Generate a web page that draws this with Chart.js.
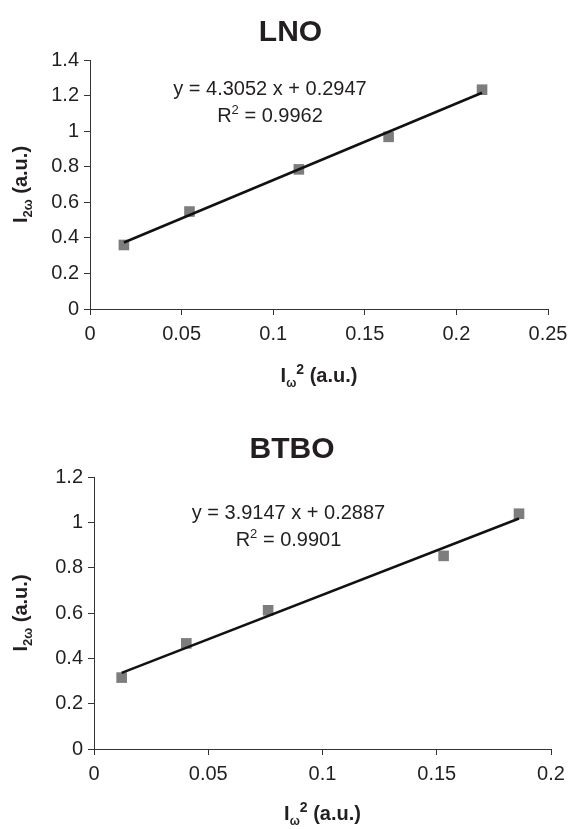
<!DOCTYPE html>
<html><head><meta charset="utf-8">
<script src="https://cdn.jsdelivr.net/npm/chart.js@4/dist/chart.umd.min.js"></script>
<style>html,body{margin:0;padding:0;background:#fff;width:568px;height:829px;overflow:hidden;} canvas{position:absolute;left:0;}</style>
</head><body>
<canvas id="c1" width="568" height="400" style="top:0px"></canvas>
<canvas id="c2" width="568" height="429" style="top:400px"></canvas>
<script>
// ---- Data ----
const lnoX = [0.0185, 0.0543, 0.1140, 0.1630, 0.2140];
const lnoY = [0.360, 0.548, 0.785, 0.968, 1.233];
const lnoFitX = [0.0185, 0.2140];
const lnoFitY = [0.374, 1.216];
const lnoXTicks = [0, 0.05, 0.1, 0.15, 0.2, 0.25];
const lnoXTickLabels = ['0', '0.05', '0.1', '0.15', '0.2', '0.25'];
const lnoYTicks = [0, 0.2, 0.4, 0.6, 0.8, 1, 1.2, 1.4];
const lnoYTickLabels = ['0', '0.2', '0.4', '0.6', '0.8', '1', '1.2', '1.4'];

const btboX = [0.0121, 0.0404, 0.0762, 0.1530, 0.1860];
const btboY = [0.315, 0.466, 0.612, 0.852, 1.038];
const btboFitX = [0.0121, 0.1860];
const btboFitY = [0.336, 1.017];
const btboXTicks = [0, 0.05, 0.1, 0.15, 0.2];
const btboXTickLabels = ['0', '0.05', '0.1', '0.15', '0.2'];
const btboYTicks = [0, 0.2, 0.4, 0.6, 0.8, 1, 1.2];
const btboYTickLabels = ['0', '0.2', '0.4', '0.6', '0.8', '1', '1.2'];

const FONT = '"Liberation Sans", Arial, Helvetica, sans-serif';
const TXT = '#231f20';

function rich(ctx, segs, cx, cy, rot) {
  ctx.save();
  ctx.translate(cx, cy);
  if (rot) ctx.rotate(rot);
  ctx.textAlign = 'left';
  ctx.textBaseline = 'alphabetic';
  ctx.fillStyle = TXT;
  let total = 0;
  segs.forEach(s => {
    ctx.font = (s.bold ? 'bold ' : '') + s.size + 'px ' + FONT;
    s.w = ctx.measureText(s.t).width;
    total += s.w;
  });
  let x = -total / 2;
  segs.forEach(s => {
    ctx.font = (s.bold ? 'bold ' : '') + s.size + 'px ' + FONT;
    ctx.fillText(s.t, x, s.dy || 0);
    x += s.w;
  });
  ctx.restore();
}

function makeChart(id, cfg) {
  const pts = cfg.x.map((v, i) => ({x: v, y: cfg.y[i]}));
  const fit = cfg.fx.map((v, i) => ({x: v, y: cfg.fy[i]}));
  const textPlugin = {
    id: 'texts',
    afterDraw(chart) {
      const ctx = chart.ctx;
      const a = chart.chartArea;
      rich(ctx, [{t: cfg.title, size: 30, bold: true}], cfg.titleX, cfg.titleY);
      rich(ctx, [{t: cfg.eq, size: 20}], cfg.eqX, cfg.eqY);
      rich(ctx, [{t: 'R', size: 20}, {t: '2', size: 13, dy: -8}, {t: ' = ' + cfg.r2, size: 20}], cfg.eqX, cfg.eqY + 27);
      rich(ctx, [{t: 'I', size: 20, bold: true}, {t: '\u03c9', size: 12, bold: true, dy: 5},
                 {t: '2', size: 14, bold: true, dy: -8}, {t: ' (a.u.)', size: 20, bold: true}],
           (a.left + a.right) / 2, cfg.xTitleY);
      rich(ctx, [{t: 'I', size: 20, bold: true}, {t: '2\u03c9', size: 13, bold: true, dy: 5},
                 {t: ' (a.u.)', size: 20, bold: true}],
           27, (a.top + a.bottom) / 2, -Math.PI / 2);
    }
  };
  const axisCommon = {
    type: 'linear',
    border: {display: true, color: '#333', width: 1},
    grid: {display: true, drawOnChartArea: false, drawTicks: true, tickLength: 6, color: '#333', lineWidth: 1},
  };
  return new Chart(document.getElementById(id), {
    type: 'scatter',
    data: {
      datasets: [
        {type: 'line', data: fit, borderColor: '#111', borderWidth: 2.5, pointRadius: 0, fill: false, tension: 0},
        {data: pts, pointStyle: 'rect', pointRadius: 7.5, backgroundColor: '#7d7d7d', borderColor: '#7d7d7d', borderWidth: 0, pointHoverRadius: 7.5}
      ]
    },
    options: {
      responsive: false,
      animation: false,
      events: [],
      layout: {padding: {left: 0, top: cfg.padTop, right: cfg.padRight, bottom: 0}},
      plugins: {legend: {display: false}, title: {display: false}, tooltip: {enabled: false}},
      scales: {
        x: Object.assign({}, axisCommon, {
          min: 0, max: cfg.xTicks[cfg.xTicks.length - 1],
          afterBuildTicks: s => { s.ticks = cfg.xTicks.map(v => ({value: v})); },
          afterFit: s => { s.height = cfg.xHeight; s.paddingLeft = 0; s.paddingRight = 0; },
          ticks: {padding: 7, color: TXT, font: {family: FONT, size: 20}, maxRotation: 0, autoSkip: false,
                  callback: (v, i) => cfg.xLabels[i]}
        }),
        y: Object.assign({}, axisCommon, {
          min: 0, max: cfg.yTicks[cfg.yTicks.length - 1],
          afterBuildTicks: s => { s.ticks = cfg.yTicks.map(v => ({value: v})); },
          afterFit: s => { s.width = cfg.yWidth; s.paddingTop = 0; s.paddingBottom = 0; },
          ticks: {padding: 5, color: TXT, font: {family: FONT, size: 20}, autoSkip: false,
                  callback: (v, i) => cfg.yLabels[i]}
        })
      }
    },
    plugins: [textPlugin]
  });
}

makeChart('c1', {
  x: lnoX, y: lnoY, fx: lnoFitX, fy: lnoFitY,
  xTicks: lnoXTicks, xLabels: lnoXTickLabels, yTicks: lnoYTicks, yLabels: lnoYTickLabels,
  title: 'LNO', titleX: 290.5, titleY: 40.5,
  eq: 'y = 4.3052 x + 0.2947', r2: '0.9962', eqX: 270, eqY: 95,
  xTitleY: 382,
  padTop: 60, padRight: 20, xHeight: 91, yWidth: 90
});

makeChart('c2', {
  x: btboX, y: btboY, fx: btboFitX, fy: btboFitY,
  xTicks: btboXTicks, xLabels: btboXTickLabels, yTicks: btboYTicks, yLabels: btboYTickLabels,
  title: 'BTBO', titleX: 292, titleY: 57.5,
  eq: 'y = 3.9147 x + 0.2887', r2: '0.9901', eqX: 288.5, eqY: 118.5,
  xTitleY: 420,
  padTop: 77, padRight: 17, xHeight: 80, yWidth: 94
});
</script>
</body></html>
